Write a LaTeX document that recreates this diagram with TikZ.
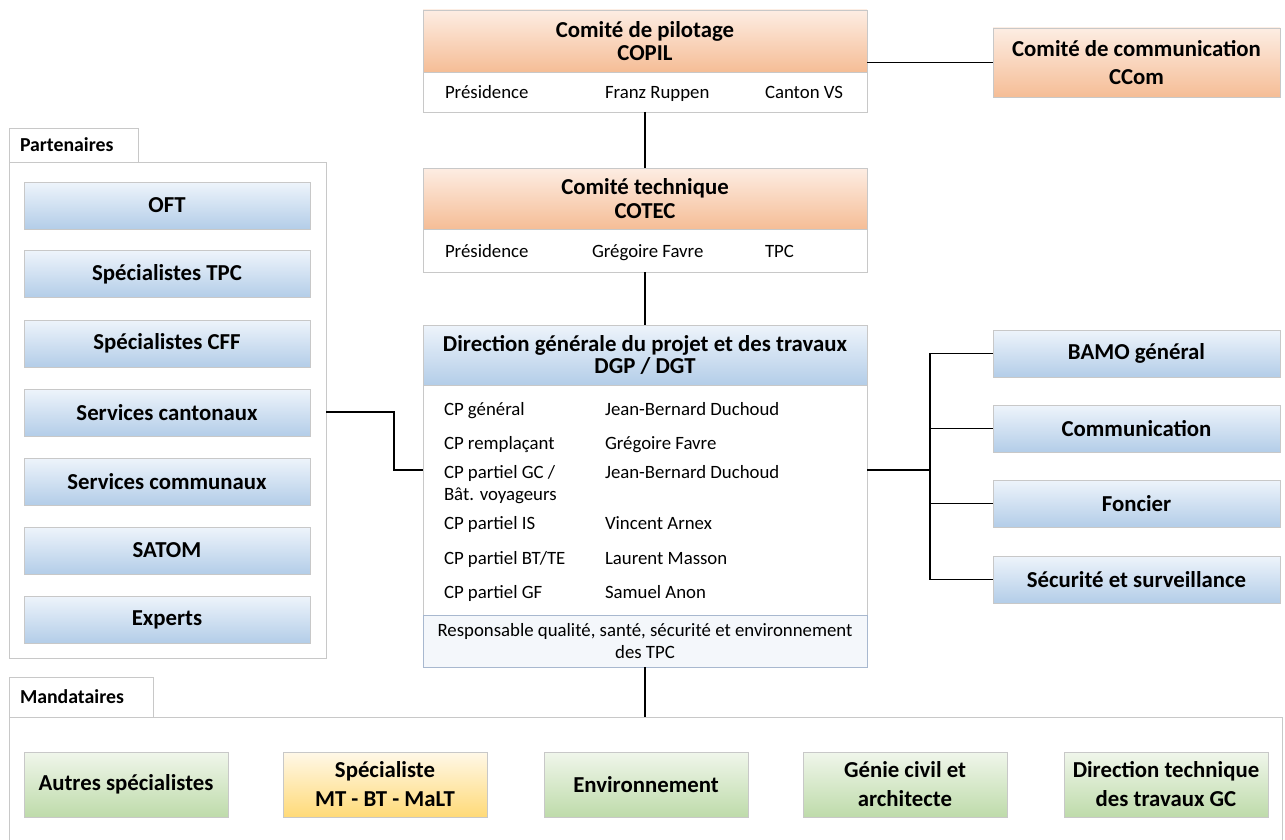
\documentclass[tikz,border=0pt]{standalone}
\usepackage{fontspec}
\setmainfont{Carlito}
\usetikzlibrary{calc}
\definecolor{bgrey}{HTML}{C8C8C8}
\definecolor{ortop}{HTML}{FDEDE3}
\definecolor{orbot}{HTML}{F5BD96}
\definecolor{bltop}{HTML}{EEF4FB}
\definecolor{blbot}{HTML}{B3CDE8}
\definecolor{grtop}{HTML}{F0F6EB}
\definecolor{grbot}{HTML}{BEDBAA}
\definecolor{yetop}{HTML}{FFF8E8}
\definecolor{yebot}{HTML}{FFDA78}
\definecolor{rqfill}{HTML}{F4F7FB}
\definecolor{rqdraw}{HTML}{A8B8CF}
\begin{document}
\begin{tikzpicture}[x=1pt,y=-1pt,
  every node/.style={inner sep=0pt, outer sep=0pt},
  boxbase/.style={rectangle, draw=bgrey, line width=0.8pt, align=center},
  title/.style={font=\fontsize{22.8}{23.5}\selectfont\bfseries},
  orangehdr/.style={boxbase, title, top color=ortop, bottom color=orbot, minimum width=444pt},
  bluebox/.style={boxbase, title, top color=bltop, bottom color=blbot, minimum height=47pt},
  greenbox/.style={boxbase, title, font=\fontsize{22.8}{29}\selectfont\bfseries, top color=grtop, bottom color=grbot, minimum width=204pt, minimum height=65pt},
  yellowbox/.style={greenbox, top color=yetop, bottom color=yebot},
  whitebody/.style={boxbase, fill=white, minimum width=444pt},
  bodytext/.style={anchor=base west, font=\fontsize{18.8}{22}\selectfont},
  container/.style={rectangle, draw=bgrey, line width=0.8pt, fill=white},
  tablabel/.style={anchor=base west, font=\fontsize{19.8}{20}\selectfont\bfseries},
  conn/.style={draw=black, line width=1.4pt}
]
\useasboundingbox (0,0) rectangle (1285,840);

% ---------- COPIL ----------
\node[orangehdr, minimum height=62pt] (copilhead) at (645,41) {Comité de pilotage\\COPIL};
\node[whitebody, minimum height=40pt] (copilbody) at (645,92) {};
\node[bodytext] (copil1) at (445,99) {Présidence};
\node[bodytext] (copil2) at (605,99) {Franz Ruppen};
\node[bodytext] (copil3) at (765,99) {Canton VS};

% ---------- CCom ----------
\node[boxbase, title, font=\fontsize{22.8}{28.5}\selectfont\bfseries, top color=ortop, bottom color=orbot,
      minimum width=287pt, minimum height=69pt] (ccom) at (1136.5,62.5) {Comité de communication\\CCom};

% ---------- COTEC ----------
\node[orangehdr, minimum height=61pt] (cotechead) at (645,198.5) {Comité technique\\COTEC};
\node[whitebody, minimum height=43pt] (cotecbody) at (645,250.5) {};
\node[bodytext] (cotec1) at (445,257) {Présidence};
\node[bodytext] (cotec2) at (592,257) {Grégoire Favre};
\node[bodytext] (cotec3) at (765,257) {TPC};

% ---------- DGP / DGT ----------
\node[boxbase, font=\fontsize{22.8}{22.7}\selectfont\bfseries, top color=bltop, bottom color=blbot,
      minimum width=444pt, minimum height=60pt] (dgphead) at (645,355) {Direction générale du projet et des travaux\\DGP / DGT};
\node[whitebody, minimum height=230pt] (dgpbody) at (645,500) {};
\node[bodytext] (r1a) at (444,415.5) {CP général};
\node[bodytext] (r1b) at (605,415.5) {Jean-Bernard Duchoud};
\node[bodytext] (r2a) at (444,449) {CP remplaçant};
\node[bodytext] (r2b) at (605,449) {Grégoire Favre};
\node[bodytext] (r3a) at (444,478) {CP partiel GC /};
\node[bodytext] (r3c) at (444,500.5) {Bât. voyageurs};
\node[bodytext] (r3b) at (605,478) {Jean-Bernard Duchoud};
\node[bodytext] (r4a) at (444,529) {CP partiel IS};
\node[bodytext] (r4b) at (605,529) {Vincent Arnex};
\node[bodytext] (r5a) at (444,564) {CP partiel BT/TE};
\node[bodytext] (r5b) at (605,564) {Laurent Masson};
\node[bodytext] (r6a) at (444,598) {CP partiel GF};
\node[bodytext] (r6b) at (605,598) {Samuel Anon};
\node[rectangle, draw=rqdraw, line width=0.8pt, fill=rqfill, minimum width=444pt, minimum height=52pt,
      align=center, font=\fontsize{18.8}{21.5}\selectfont] (rq) at (645,641)
      {Responsable qualité, santé, sécurité et environnement\\des TPC};

% ---------- Partenaires ----------
\node[container, minimum width=317pt, minimum height=496pt] (part) at (167.5,410) {};
\node[container, minimum width=129pt, minimum height=34pt] (parttab) at (73.5,145) {};
\node[tablabel] (parttxt) at (20,151) {Partenaires};
\node[bluebox, minimum width=286pt] (oft)  at (167,205.5) {OFT};
\node[bluebox, minimum width=286pt] (stpc) at (167,274)   {Spécialistes TPC};
\node[bluebox, minimum width=286pt] (scff) at (167,343.5) {Spécialistes CFF};
\node[bluebox, minimum width=286pt] (scan) at (167,412.5) {Services cantonaux};
\node[bluebox, minimum width=286pt] (scom) at (167,481.5) {Services communaux};
\node[bluebox, minimum width=286pt] (satom) at (167,550.5) {SATOM};
\node[bluebox, minimum width=286pt] (exp)  at (167,619.5) {Experts};

% ---------- right column ----------
\node[bluebox, minimum width=287pt] (bamo) at (1136.5,353.5) {BAMO général};
\node[bluebox, minimum width=287pt] (comm) at (1136.5,428.5) {Communication};
\node[bluebox, minimum width=287pt] (fonc) at (1136.5,503.5) {Foncier};
\node[bluebox, minimum width=287pt] (secu) at (1136.5,579.5) {Sécurité et surveillance};

% ---------- Mandataires ----------
\draw[bgrey, line width=0.8pt] (9,845) -- (9,717) -- (1282,717) -- (1282,845);
\coordinate (mandtop) at (645,717);
\node[container, minimum width=144pt, minimum height=40pt] (mandtab) at (81,697) {};
\node[tablabel] (mandtxt) at (20,703) {Mandataires};
\node[greenbox] (autres) at (126,784.5) {Autres spécialistes};
\node[yellowbox] (spec) at (385,784.5) {Spécialiste\\MT - BT - MaLT};
\node[greenbox] (env) at (646,784.5) {Environnement};
\node[greenbox] (gc) at (905,784.5) {Génie civil et\\architecte};
\node[greenbox] (dir) at (1166,784.5) {Direction technique\\des travaux GC};

% ---------- connectors ----------
\draw[conn] (copilhead.east |- ccom.west) -- (ccom.west);
\draw[conn] (copilbody.south) -- (cotechead.north);
\draw[conn] (cotecbody.south) -- (dgphead.north);
\draw[conn] (rq.south) -- (mandtop);
\coordinate (jl) at (394,412);
\draw[conn] (part.east |- jl) -- (jl) |- (dgpbody.west |- 0,470);
\coordinate (jr) at (930,470);
\draw[conn] (dgpbody.east |- jr) -- (jr);
\draw[conn] (jr) |- (bamo.west);
\draw[conn] (jr) |- (comm.west);
\draw[conn] (jr) |- (fonc.west);
\draw[conn] (jr) |- (secu.west);
\end{tikzpicture}
\end{document}
